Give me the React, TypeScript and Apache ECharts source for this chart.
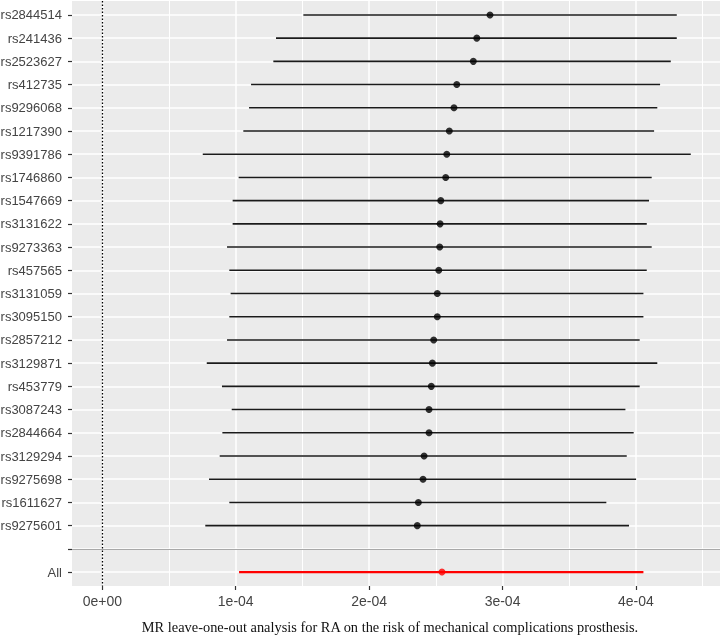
import React, { useEffect, useRef } from "react";
import * as echarts from "echarts";

// Leave-one-out results (values in units of the exposure effect)
const snpLabels = [
  "rs2844514", "rs241436", "rs2523627", "rs412735", "rs9296068", "rs1217390",
  "rs9391786", "rs1746860", "rs1547669", "rs3131622", "rs9273363", "rs457565",
  "rs3131059", "rs3095150", "rs2857212", "rs3129871", "rs453779", "rs3087243",
  "rs2844664", "rs3129294", "rs9275698", "rs1611627", "rs9275601",
];
const estimate = [
  2.906e-4, 2.807e-4, 2.781e-4, 2.657e-4, 2.636e-4, 2.601e-4,
  2.582e-4, 2.574e-4, 2.537e-4, 2.532e-4, 2.529e-4, 2.522e-4,
  2.511e-4, 2.511e-4, 2.484e-4, 2.474e-4, 2.466e-4, 2.449e-4,
  2.449e-4, 2.412e-4, 2.404e-4, 2.369e-4, 2.361e-4,
];
const lower = [
  1.507e-4, 1.302e-4, 1.282e-4, 1.115e-4, 1.100e-4, 1.057e-4,
  0.753e-4, 1.022e-4, 0.977e-4, 0.977e-4, 0.935e-4, 0.952e-4,
  0.962e-4, 0.952e-4, 0.935e-4, 0.783e-4, 0.897e-4, 0.970e-4,
  0.900e-4, 0.880e-4, 0.800e-4, 0.952e-4, 0.772e-4,
];
const upper = [
  4.306e-4, 4.306e-4, 4.261e-4, 4.181e-4, 4.160e-4, 4.136e-4,
  4.411e-4, 4.118e-4, 4.098e-4, 4.081e-4, 4.118e-4, 4.081e-4,
  4.056e-4, 4.056e-4, 4.028e-4, 4.160e-4, 4.028e-4, 3.921e-4,
  3.983e-4, 3.931e-4, 4.001e-4, 3.778e-4, 3.948e-4,
];
const allLabel = "All";
const allEstimate = [2.546e-4];
const allLower = [1.025e-4];
const allUpper = [4.056e-4];

const xTicks = [0, 1e-4, 2e-4, 3e-4, 4e-4];
const xTickLabels = ["0e+00", "1e-04", "2e-04", "3e-04", "4e-04"];
const xMinorTicks = [0.5e-4, 1.5e-4, 2.5e-4, 3.5e-4, 4.5e-4];
const xTitle = "MR leave-one-out analysis for RA on the risk of mechanical complications prosthesis.";

export default function App() {
  const ref = useRef<HTMLDivElement>(null);

  useEffect(() => {
    if (!ref.current) return;
    const chart = echarts.init(ref.current, undefined, { renderer: "svg" });

    const yLabels = [...snpLabels, "", allLabel];
    const yIdx = yLabels.map((_, i) => i);
    const separatorIdx = snpLabels.length;
    const allIdx = snpLabels.length + 1;

    const barData: number[][] = snpLabels.map((_, i) => [i, lower[i], upper[i], 0]);
    barData.push([allIdx, allLower[0], allUpper[0], 1]);

    const pointData: any[] = snpLabels.map((_, i) => ({
      value: [estimate[i], i],
      itemStyle: { color: "#000000" },
    }));
    pointData.push({ value: [allEstimate[0], allIdx], itemStyle: { color: "#ff0000" } });

    const xMin = -0.2271e-4;
    const xMax = 4.63e-4;

    chart.setOption({
      animation: false,
      grid: {
        left: 72,
        top: 1,
        width: 648,
        height: 585,
        show: true,
        backgroundColor: "#EBEBEB",
        borderWidth: 0,
        containLabel: false,
        outerBoundsMode: "none",
      },
      xAxis: [
        {
          type: "value",
          min: xMin,
          max: xMax,
          position: "bottom",
          axisLine: { show: false, onZero: false },
          axisTick: {
            show: true,
            length: 4,
            customValues: xTicks,
            lineStyle: { color: "#333333", width: 1.2 },
          },
          axisLabel: {
            customValues: xTicks,
            margin: 8,
            color: "#444444",
            fontFamily: "Liberation Sans, Arial, sans-serif",
            fontSize: 14,
            formatter: (v: number) => {
              const k = xTicks.findIndex((t) => Math.abs(t - v) < 1e-9);
              return k >= 0 ? xTickLabels[k] : "";
            },
          },
          splitLine: { show: true, lineStyle: { color: "#FFFFFF", width: 1.5 } },
        },
        {
          type: "value",
          min: xMin,
          max: xMax,
          position: "bottom",
          axisLine: { show: false, onZero: false },
          axisTick: { show: false, customValues: xMinorTicks },
          axisLabel: { show: false, customValues: xMinorTicks },
          splitLine: { show: true, lineStyle: { color: "#FFFFFF", width: 1 } },
        },
      ],
      yAxis: {
        type: "value",
        inverse: true,
        position: "left",
        min: -0.6,
        max: yLabels.length - 1 + 0.6,
        axisLine: { show: false, onZero: false },
        axisTick: {
          show: true,
          length: 4,
          customValues: yIdx,
          lineStyle: { color: "#333333", width: 1.2 },
        },
        axisLabel: {
          customValues: yIdx,
          margin: 10,
          color: "#444444",
          fontFamily: "Liberation Sans, Arial, sans-serif",
          fontSize: 13,
          formatter: (v: number) => yLabels[Math.round(v)] ?? "",
        },
        splitLine: { show: true, lineStyle: { color: "#FFFFFF", width: 1.5 } },
      },
      series: [
        {
          type: "custom",
          xAxisIndex: 0,
          yAxisIndex: 0,
          data: barData,
          encode: { x: [1, 2], y: 0 },
          renderItem: (params: any, api: any) => {
            const y = api.value(0);
            const lo = api.value(1);
            const hi = api.value(2);
            const isAll = api.value(3) === 1;
            const p1 = api.coord([lo, y]);
            const p2 = api.coord([hi, y]);
            return {
              type: "line",
              shape: { x1: p1[0], y1: p1[1], x2: p2[0], y2: p2[1] },
              style: { stroke: isAll ? "#ff0000" : "#1a1a1a", lineWidth: isAll ? 2.2 : 1.6 },
            };
          },
          markLine: {
            silent: true,
            symbol: "none",
            label: { show: false },
            animation: false,
            data: [
              { xAxis: 0, lineStyle: { color: "#000000", type: [1.5, 2], width: 1.3 } },
              { yAxis: separatorIdx, lineStyle: { color: "#a8a8a8", type: "solid", width: 1 } },
            ],
          },
          z: 3,
        },
        {
          type: "scatter",
          xAxisIndex: 0,
          yAxisIndex: 0,
          symbol: "circle",
          symbolSize: 7,
          data: pointData,
          z: 4,
        },
      ],
      graphic: [
        {
          type: "text",
          x: 390,
          y: 627,
          style: {
            text: xTitle,
            fill: "#111111",
            font: "14.4px 'Liberation Serif', 'Times New Roman', serif",
            textAlign: "center",
            textVerticalAlign: "middle",
          },
        },
      ],
    });

    return () => chart.dispose();
  }, []);

  return (
    <div
      ref={ref}
      style={{ position: "fixed", left: 0, top: 0, width: 726, height: 641 }}
    />
  );
}
